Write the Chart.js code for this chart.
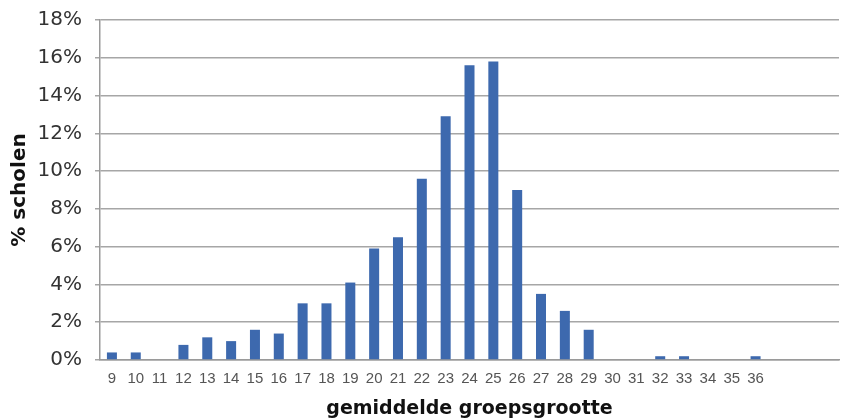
<!DOCTYPE html>
<html>
<head>
<meta charset="utf-8">
<script src="https://cdn.jsdelivr.net/npm/chart.js@4/dist/chart.umd.min.js"></script>
<style>
    html, body { margin: 0; padding: 0; background: #fff; }
    #wrap { width: 844px; height: 420px; }
</style>
</head>
<body>
<div id="wrap"><canvas id="groepChart"></canvas></div>
<script>
// group size categories (last three have no label in the original)
const groupSizes = ["9", "10", "11", "12", "13", "14", "15", "16", "17", "18", "19", "20",
    "21", "22", "23", "24", "25", "26", "27", "28", "29", "30", "31", "32", "33", "34",
    "35", "36", "", "", ""];
// percentage of schools per group size
const schoolShare = [0.4, 0.4, 0, 0.8, 1.2, 1.0, 1.6, 1.4, 3.0, 3.0, 4.1, 5.9,
    6.5, 9.6, 12.9, 15.6, 15.8, 9.0, 3.5, 2.6, 1.6, 0, 0, 0.2, 0.2, 0,
    0, 0.2, 0, 0, 0];
const yTicks = [0, 2, 4, 6, 8, 10, 12, 14, 16, 18];

document.addEventListener("DOMContentLoaded", function() {
    const ctx = document.getElementById("groepChart").getContext("2d");

    new Chart(ctx, {
        type: "bar",
        data: {
            labels: groupSizes,
            datasets: [{
                data: schoolShare,
                backgroundColor: "#3d69ae",
                borderWidth: 0,
                barPercentage: 0.42,
                categoryPercentage: 1.0
            }]
        },
        options: {
            responsive: true,
            maintainAspectRatio: false,
            animation: false,
            layout: { padding: { top: 20, right: 5, left: 0, bottom: 0 } },
            plugins: {
                legend: { display: false },
                tooltip: { enabled: false }
            },
            scales: {
                x: {
                    grid: { display: false, drawTicks: false },
                    border: { color: "#9a9a9a", width: 1.5 },
                    ticks: {
                        autoSkip: false,
                        maxRotation: 0,
                        padding: 10,
                        color: "#555",
                        font: { family: "Liberation Sans", size: 15 }
                    },
                    title: {
                        display: true,
                        text: "gemiddelde groepsgrootte",
                        color: "#111",
                        padding: { top: 4, bottom: 0 },
                        font: { family: "DejaVu Sans", size: 19, weight: "bold" }
                    },
                    afterFit: function(scale) { scale.height = 60; }
                },
                y: {
                    min: 0,
                    max: 18,
                    afterBuildTicks: function(scale) {
                        scale.ticks = yTicks.map(v => ({ value: v }));
                    },
                    grid: { color: "#a6a6a6", lineWidth: 1.5, tickLength: 5 },
                    border: { color: "#9a9a9a", width: 1.5 },
                    ticks: {
                        padding: 13,
                        color: "#333",
                        font: { family: "DejaVu Sans", size: 20 },
                        callback: v => v + "%"
                    },
                    title: {
                        display: true,
                        text: "% scholen",
                        color: "#111",
                        padding: { top: 8, bottom: 2 },
                        font: { family: "DejaVu Sans", size: 20, weight: "bold" }
                    },
                    afterFit: function(scale) {
                        scale.width = 100;
                        scale.paddingTop = 0;
                        scale.paddingBottom = 0;
                    }
                }
            }
        }
    });
});
</script>
</body>
</html>
